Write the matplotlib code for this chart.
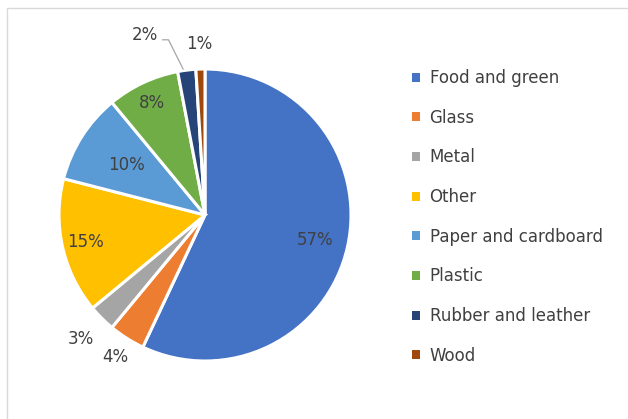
import numpy as np
import matplotlib.pyplot as plt
from matplotlib.patches import Rectangle, Patch

# waste composition
categories = ['Food and green', 'Glass', 'Metal', 'Other', 'Paper and cardboard',
              'Plastic', 'Rubber and leather', 'Wood']
shares = [57, 4, 3, 15, 10, 8, 2, 1]
pct_labels = ['57%', '4%', '3%', '15%', '10%', '8%', '2%', '1%']

colors = ['#4472C4', '#ED7D31', '#A5A5A5', '#FFC000', '#5B9BD5', '#70AD47', '#264478', '#9E480E']
# label distance from the centre (in radii), Excel "best fit" style
label_dist = [0.77, 1.15, 1.2, 0.84, 0.64, 0.85, 1.17, 1.17]
text_col = '#404040'

W, H = 628, 419
fig = plt.figure(figsize=(W / 100, H / 100), dpi=100)

# chart area border
fig.patches.append(Rectangle((7 / W, -0.1), 1.1, (H - 8) / H + 0.1, transform=fig.transFigure,
                             fill=False, edgecolor='#D9D9D9', lw=1.0))

cx, cy, r = 205, 215, 146
ax = fig.add_axes([(cx - r) / W, (H - cy - r) / H, 2 * r / W, 2 * r / H])
wedges, _ = ax.pie(shares, colors=colors, startangle=90, counterclock=False, radius=1,
                   wedgeprops=dict(edgecolor='white', linewidth=2.2))
ax.set_xlim(-1, 1)
ax.set_ylim(-1, 1)
ax.set_aspect('equal')
ax.axis('off')

for w, lab, d in zip(wedges, pct_labels, label_dist):
    ang = np.deg2rad((w.theta1 + w.theta2) / 2)
    x, y = d * np.cos(ang), d * np.sin(ang)
    if lab == '2%':
        # pulled left with a leader line
        x = -0.41
        y = 1.23
        ax.plot([-0.29, -0.25, -0.15], [1.2, 1.2, 1.0], color='#A6A6A6', lw=0.9, clip_on=False)
    ax.text(x, y, lab, ha='center', va='center', fontsize=12, color=text_col, clip_on=False)

handles = [Patch(facecolor=c, edgecolor='none') for c in colors]
leg = fig.legend(handles, categories, loc='upper left', bbox_to_anchor=(397 / W, 1 - 54 / H),
                 frameon=False, fontsize=12, handlelength=0.45, handleheight=0.45,
                 handletextpad=0.6, labelspacing=1.3, labelcolor=text_col)

plt.savefig('out.png', dpi=100)
